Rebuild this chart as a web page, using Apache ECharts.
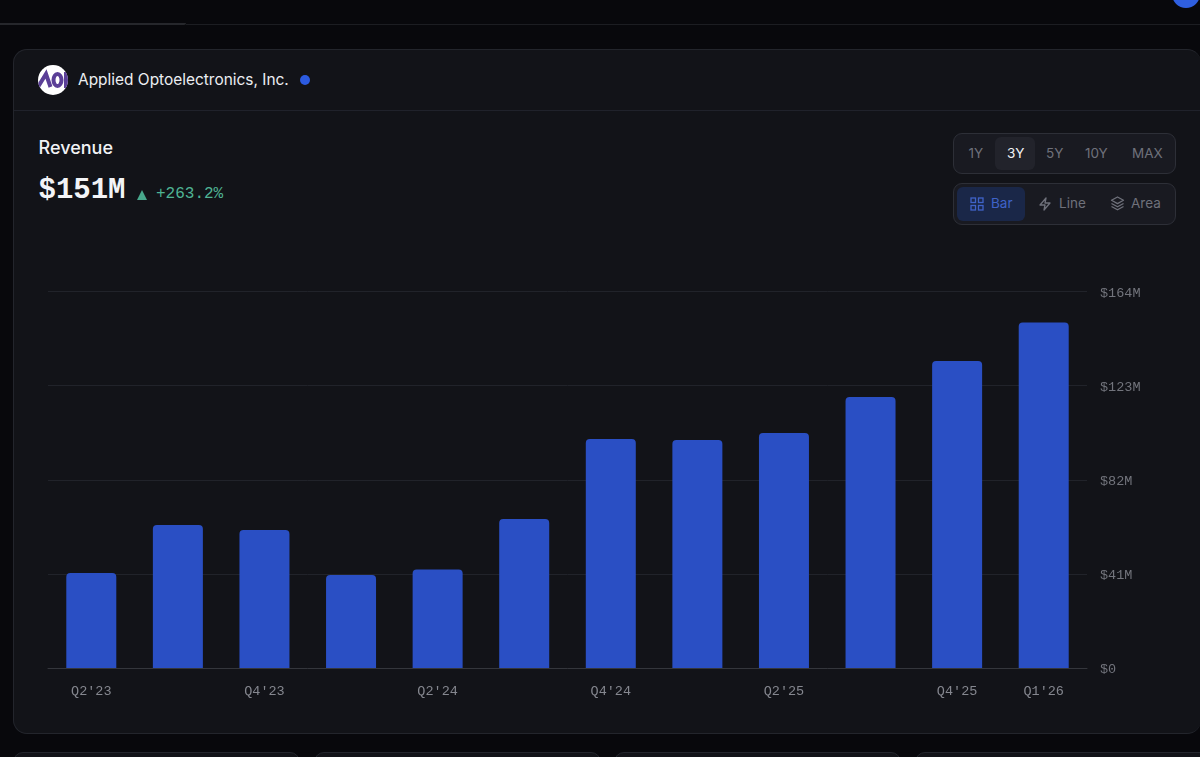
<!DOCTYPE html>
<html><head><meta charset="utf-8">
<script src="https://cdn.jsdelivr.net/npm/echarts@6/dist/echarts.min.js"></script>
<style>
html,body{margin:0;padding:0;width:1200px;height:757px;overflow:hidden;background:#08080c;font-family:Inter,"Noto Sans",sans-serif;}
.abs{position:absolute;box-sizing:border-box;}
#card{left:13px;top:49px;height:685px;width:1188px;background:#121318;border:1px solid #23252c;border-right:none;border-radius:14px;}
#chart{left:0;top:240px;width:1200px;height:480px;}
.t{position:absolute;white-space:nowrap;line-height:1;}
.mono{font-family:"Liberation Mono",monospace;}
.grp{position:absolute;background:#191a21;border:1px solid #2d2f37;border-radius:9px;box-sizing:border-box;}
.pill{position:absolute;border-radius:6px;}
svg.ic{position:absolute;fill:none;stroke-width:1.3;}
.sm{font-size:13.5px;color:#6f717b;}
.bc{position:absolute;top:752px;height:20px;background:#121318;border:1px solid #23252c;border-radius:14px;box-sizing:border-box;}
</style></head><body>
<div class="abs" style="left:-20px;top:23px;width:206px;height:2px;background:#26272c;border-radius:0 0 6px 0"></div>
<div class="abs" style="left:186px;top:24px;width:1014px;height:1px;background:#1c1d22"></div>
<div class="abs" style="left:1172px;top:-20px;width:28px;height:28px;border-radius:50%;background:#2f5fe0"></div>
<div class="abs" id="card"></div>
<div class="abs" style="left:14px;top:110px;width:1186px;height:1px;background:#20222b"></div>
<div class="bc" style="left:13px;width:287px"></div>
<div class="bc" style="left:314px;width:287px"></div>
<div class="bc" style="left:614px;width:287px"></div>
<div class="bc" style="left:915px;width:300px"></div>
<svg class="abs" style="left:38px;top:65px" width="30" height="30" viewBox="0 0 30 30">
<defs><clipPath id="lc"><circle cx="15" cy="15" r="15"/></clipPath></defs>
<circle cx="15" cy="15" r="15" fill="#fff"/>
<g clip-path="url(#lc)" fill="none" stroke="#5b3f97" stroke-width="4">
<path d="M0 22 L8 9 L12.5 22"/><ellipse cx="19.5" cy="15" rx="4" ry="6"/><path d="M28 7 V23"/></g></svg>
<div class="t" style="left:78px;top:72px;font-size:15.45px;color:#eceef2;font-weight:400">Applied Optoelectronics, Inc.</div>
<div class="abs" style="left:300px;top:75px;width:10px;height:10px;border-radius:50%;background:#2c5be0"></div>
<div class="t" style="left:38.5px;top:138.5px;font-size:18px;color:#f1f2f5;font-weight:500">Revenue</div>
<div class="t mono" style="left:38.5px;top:176px;font-size:29px;color:#f3f4f7;font-weight:700">$151M</div>
<svg class="abs" style="left:137px;top:190px" width="10" height="10"><polygon points="5,0 10,10 0,10" fill="#48a88c"/></svg>
<div class="t mono" style="left:156px;top:186px;font-size:16px;color:#4fb394">+263.2%</div>

<div class="grp" style="left:953px;top:133px;width:223px;height:41px"></div>
<div class="pill" style="left:995px;top:137px;width:40px;height:33px;background:#22232b"></div>
<div class="t sm" style="left:968.5px;top:147px">1Y</div>
<div class="t sm" style="left:1007px;top:147px;color:#f0f1f4">3Y</div>
<div class="t sm" style="left:1046px;top:147px">5Y</div>
<div class="t sm" style="left:1085px;top:147px">10Y</div>
<div class="t sm" style="left:1132px;top:147px">MAX</div>

<div class="grp" style="left:953px;top:183px;width:223px;height:42px"></div>
<div class="pill" style="left:957px;top:187px;width:68px;height:34px;background:#1a2748"></div>
<svg class="ic" style="left:970px;top:197px;stroke:#3f63c8" width="14" height="14" viewBox="0 0 14 14"><rect x="1" y="1" width="4.5" height="4.5"/><rect x="8.5" y="1" width="4.5" height="4.5"/><rect x="1" y="8.5" width="4.5" height="4.5"/><rect x="8.5" y="8.5" width="4.5" height="4.5"/></svg>
<div class="t sm" style="left:991px;top:197px;color:#3f63c8">Bar</div>
<svg class="ic" style="left:1038px;top:197px;stroke:#6f717b" width="14" height="14" viewBox="0 0 14 14"><path d="M8 1 L2 8 H7 L6 13 L12 6 H7 Z" stroke-linejoin="round"/></svg>
<div class="t sm" style="left:1059px;top:197px">Line</div>
<svg class="ic" style="left:1110px;top:196px;stroke:#6f717b" width="15" height="15" viewBox="0 0 15 15"><path d="M7.5 1 L13.5 4.3 L7.5 7.6 L1.5 4.3 Z M1.5 7.5 L7.5 10.8 L13.5 7.5 M1.5 10.5 L7.5 13.8 L13.5 10.5" stroke-linejoin="round"/></svg>
<div class="t sm" style="left:1131px;top:197px">Area</div>

<div class="abs" id="chart"></div>
<script>
const categories = ["Q2'23","Q3'23","Q4'23","Q1'24","Q2'24","Q3'24","Q4'24","Q1'25","Q2'25","Q3'25","Q4'25","Q1'26"];
const revenue = [41.4, 62.3, 60.1, 40.5, 42.9, 64.9, 99.7, 99.3, 102.4, 118, 133.7, 150.5];
const shownLabels = ["Q2'23","Q4'23","Q2'24","Q4'24","Q2'25","Q4'25","Q1'26"];
const yMax = 164, yStep = 41;
const chart = echarts.init(document.getElementById('chart'), null, {renderer:'canvas'});
chart.setOption({
  backgroundColor:'transparent',
  animation:false,
  grid:{left:48,right:113,top:51.5,bottom:52},
  xAxis:{type:'category',data:categories,
    axisLine:{show:true,lineStyle:{color:'#34363c',width:1}},
    axisTick:{show:false},
    axisLabel:{interval:(i,v)=>shownLabels.includes(v),color:'#85878f',fontFamily:'"Liberation Mono",monospace',fontSize:13.5,margin:16}},
  yAxis:{type:'value',position:'right',min:0,max:yMax,interval:yStep,
    axisLine:{show:false},axisTick:{show:false},
    splitLine:{lineStyle:{color:'#21232a',width:1}},
    axisLabel:{formatter:v=>'{a|'+(v===0?'$0':'$'+v+'M')+'}',margin:13,
      rich:{a:{color:'#72747c',fontFamily:'"Liberation Mono",monospace',fontSize:13.5,padding:[3,0,0,0]}}}},
  series:[{type:'bar',data:revenue,barWidth:50,itemStyle:{color:'#2a4fc4',borderRadius:[4,4,0,0]}}]
});
</script>
</body></html>
